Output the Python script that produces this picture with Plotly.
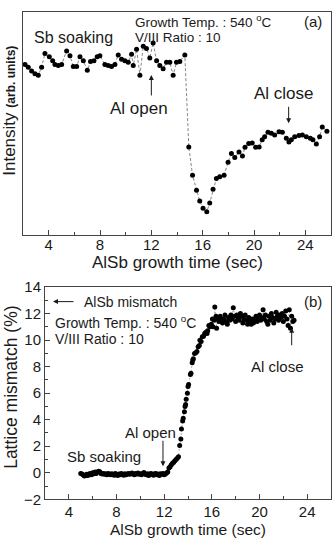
import plotly.graph_objects as go

W, H = 334, 547

# ---------------- Panel (a): RHEED intensity ----------------
a_time = [2.16, 2.41, 2.67, 2.93, 3.19, 3.45, 3.71, 4.05, 4.31, 4.49, 4.75, 5.01,
          5.40, 5.66, 5.92, 6.18, 6.44, 6.70, 7.01, 7.26, 7.53, 7.78, 7.99, 8.38,
          8.64, 8.90, 9.16, 9.42, 9.68, 9.94, 10.20, 10.46, 10.59, 10.85, 11.11,
          11.37, 11.62, 11.88, 12.14, 12.41, 12.66, 12.92, 13.18, 13.44, 13.70,
          13.96, 14.22, 14.61,
          14.92, 15.21, 15.52, 15.77, 16.03, 16.32, 16.55, 16.81, 17.07, 17.33,
          17.67, 17.98, 18.24, 18.50, 18.83, 19.10, 19.30, 19.59, 19.86, 20.13,
          20.40, 20.64, 20.83, 21.09, 21.35, 21.61, 21.95, 22.21, 22.52, 22.72,
          22.91, 23.17, 23.50, 23.77, 24.08, 24.39, 24.59, 24.86, 25.11, 25.32, 25.68]
a_intensity = [76.4, 75.2, 73.5, 72.3, 71.6, 75.2, 81.3, 79.9, 78.1, 76.4, 75.9, 76.4,
               82.5, 80.3, 75.5, 75.5, 79.9, 78.1, 73.8, 77.8, 78.1, 79.9, 80.3, 76.4,
               75.9, 75.5, 76.4, 80.7, 78.8, 78.1, 77.4, 81.0, 75.9, 83.2, 71.6,
               84.6, 83.6, 79.3, 86.1, 78.1, 75.9, 74.5, 77.4, 77.4, 71.6,
               77.4, 77.8, 80.7,
               39.4, 26.7, 20.0, 15.1, 11.9, 10.3, 14.3, 20.4, 25.2, 26.0,
               26.7, 32.5, 36.5, 34.7, 37.1, 35.3, 39.3, 40.9, 41.2, 39.3,
               39.4, 42.6, 44.0, 46.0, 45.5, 44.8, 46.2, 46.0, 43.3, 41.6,
               42.6, 44.0, 44.5, 44.8, 44.0, 43.3, 42.6, 40.7, 44.0, 48.4, 46.5]

# ---------------- Panel (b): lattice mismatch ----------------
b_time = [5.0, 5.1, 5.2, 5.3, 5.4, 5.5, 5.6, 5.7, 5.8, 5.9, 6.0, 6.1, 6.2, 6.3, 6.4,
          6.5, 6.6, 6.7, 6.8, 6.9, 7.0, 7.1, 7.2, 7.3, 7.4, 7.5, 7.6, 7.7, 7.8, 7.9,
          8.0, 8.1, 8.2, 8.3, 8.4, 8.5, 8.6, 8.7, 8.8, 8.9, 9.0, 9.1, 9.2, 9.3, 9.4,
          9.5, 9.6, 9.7, 9.8, 9.9, 10.0, 10.1, 10.2, 10.3, 10.4, 10.5, 10.6, 10.7,
          10.8, 10.9, 11.0, 11.1, 11.2, 11.3, 11.4, 11.5, 11.6, 11.7, 11.8, 11.9,
          12.0, 12.1, 12.2, 12.3,
          12.4, 12.5, 12.6, 12.7, 12.8, 12.9, 13.0, 13.1, 13.2, 13.3, 13.4, 13.45,
          13.55, 13.6, 13.7, 13.75, 13.8, 13.85, 13.95, 14.0, 14.05, 14.2, 14.25,
          14.35, 14.4, 14.45, 14.55, 14.65, 14.75, 14.85, 14.95, 15.0, 15.1, 15.2,
          15.3, 15.4, 15.5, 15.6, 15.65, 15.75, 15.85, 15.95, 16.05, 16.1, 16.2,
          16.25, 16.35, 16.4, 16.5, 16.6,
          16.7, 16.8, 16.9, 17.0, 17.1, 17.2, 17.3, 17.4, 17.5, 17.6, 17.7, 17.8,
          17.9, 18.0, 18.1, 18.2, 18.3, 18.4, 18.5, 18.6, 18.7, 18.8, 18.9, 19.0,
          19.1, 19.2, 19.3, 19.4, 19.5, 19.6, 19.7, 19.8, 19.9, 20.0, 20.1, 20.2,
          20.3, 20.4, 20.5, 20.6, 20.7, 20.8, 20.9, 21.0, 21.1, 21.2, 21.3, 21.4,
          21.5, 21.6, 21.7, 21.8, 21.9, 22.0, 22.1, 22.2, 22.3, 22.4, 22.5, 22.6,
          22.7, 22.8, 22.9]
b_mismatch = [-0.05, -0.1, -0.15, -0.25, -0.2, -0.12, -0.2, -0.1, -0.05, -0.15, 0.0,
              -0.08, 0.05, -0.05, 0.05, 0.12, 0.08, -0.05, -0.1, -0.05, -0.12, -0.08,
              -0.15, -0.05, -0.1, -0.15, -0.08, -0.12, -0.18, -0.05, -0.12, -0.2,
              -0.1, -0.15, -0.05, -0.12, -0.18, -0.08, -0.15, -0.1, -0.05, -0.12,
              -0.08, -0.02, -0.1, -0.15, -0.05, -0.1, -0.02, -0.12, -0.08, -0.15,
              -0.05, 0.02, -0.1, -0.15, -0.08, -0.2, -0.1, -0.05, -0.12, -0.18,
              -0.08, -0.05, -0.15, -0.1, -0.2, -0.08, -0.12, -0.05, -0.15, -0.1,
              -0.02, 0.05,
              0.35, 0.45, 0.6, 0.72, 0.8, 0.9, 1.0, 1.1, 1.2, 2.05, 2.55, 3.3,
              3.9, 4.1, 4.6, 5.0, 5.15, 5.55, 6.0, 6.5, 6.65, 7.4, 7.5,
              8.3, 8.5, 8.6, 9.0, 9.05, 9.15, 9.5, 9.6, 10.0, 9.9, 10.25,
              10.3, 10.5, 10.6, 10.5, 10.7, 11.1, 11.0, 11.2, 11.6, 11.0, 11.5,
              12.5, 11.8, 10.9, 11.6, 11.4,
              11.8, 11.5, 11.3, 11.6, 11.9, 11.4, 11.2, 11.7, 11.5, 11.9, 11.6, 12.45,
              11.8, 11.4, 11.9, 11.7, 11.5, 12.0, 11.8, 11.3, 11.6, 11.9, 11.5, 11.2,
              11.7, 11.4, 11.2, 11.6, 11.3, 11.5, 11.8, 11.4, 11.6, 11.9, 11.5, 11.7,
              12.3, 11.6, 11.9, 11.4, 11.2, 11.8, 11.5, 12.0, 11.7, 11.3, 11.6, 12.1,
              11.8, 11.5, 11.9, 11.7, 12.0, 11.4, 11.8, 12.2, 11.6, 11.1, 12.3, 10.9,
              11.8, 11.4, 11.5]

x_ticks = [4, 8, 12, 16, 20, 24]
y_ticks_b = [-2, 0, 2, 4, 6, 8, 10, 12, 14]

FONT = "Liberation Sans, Arial, sans-serif"
TXT = "#1a1a1a"
AX = "#444444"


def PX(x):
    return x / W


def PY(y):
    return 1 - y / H


fig = go.Figure()

fig.add_trace(go.Scatter(
    x=a_time, y=a_intensity, mode="lines+markers",
    line=dict(color="#666666", width=0.8, dash="3px,2px"),
    marker=dict(color="black", size=5),
    xaxis="x", yaxis="y", showlegend=False))

fig.add_trace(go.Scatter(
    x=b_time, y=b_mismatch, mode="lines+markers",
    line=dict(color="#888888", width=0.7, dash="2px,2px"),
    marker=dict(color="black", size=5),
    xaxis="x2", yaxis="y2", showlegend=False))

axis_common = dict(showline=True, linecolor=AX, linewidth=1, mirror=True,
                   showgrid=False, zeroline=False,
                   tickfont=dict(family=FONT, size=15, color=TXT))

fig.update_layout(
    width=W, height=H,
    margin=dict(l=0, r=0, t=0, b=0),
    paper_bgcolor="white", plot_bgcolor="white",
    font=dict(family=FONT, color=TXT),
    xaxis=dict(domain=[PX(23), PX(331)], range=[2, 26], anchor="y",
               tickvals=x_ticks, ticks="inside", ticklen=5, tickcolor=AX,
               ticklabelstandoff=-4,
               minor=dict(ticks="inside", ticklen=3, dtick=2, tick0=0, tickcolor=AX),
               **axis_common),
    yaxis=dict(domain=[PY(233), PY(3)], range=[0, 100], anchor="x",
               showticklabels=False, ticks="",
               **axis_common),
    xaxis2=dict(domain=[PX(45), PX(331)], range=[2, 26], anchor="y2",
                tickvals=x_ticks, ticks="inside", ticklen=5, tickcolor=AX,
                ticklabelstandoff=-1,
                minor=dict(ticks="inside", ticklen=3, dtick=2, tick0=0, tickcolor=AX),
                **axis_common),
    yaxis2=dict(domain=[PY(506), PY(287)], range=[-2, 14], anchor="x2",
                tickvals=y_ticks_b, ticks="inside", ticklen=5, tickcolor=AX,
                minor=dict(ticks="inside", ticklen=3, dtick=1, tick0=0, tickcolor=AX),
                **axis_common),
)


def text(x, y, s, size, xanchor="center", angle=0):
    fig.add_annotation(x=PX(x), y=PY(y), xref="paper", yref="paper", text=s,
                       showarrow=False, xanchor=xanchor, yanchor="middle",
                       textangle=angle, font=dict(family=FONT, size=size, color=TXT))


def arrow(xr, yr, x, y, ax, ay):
    fig.add_annotation(x=x, y=y, xref=xr, yref=yr, text="", showarrow=True,
                       ax=ax, ay=ay, arrowhead=2, arrowsize=1, arrowwidth=1,
                       arrowcolor=TXT)


# Panel (a) texts
text(73, 29, "Sb soaking", 16)
text(133, 12.5, "Growth Temp. : 540 <sup>o</sup>C", 13.5, "left")
text(133, 29, "V/III Ratio : 10", 13.5, "left")
text(313, 13, "(a)", 15)
text(139, 103, "Al open", 17)
text(284, 87, "Al close", 17)
text(177, 262, "AlSb growth time (sec)", 17)
text(10, 105, "Intensity <b><span style='font-size:12px'>(arb. units)</span></b>", 17,
     angle=-90)
arrow("x", "y", 12.0, 71.7, 0, 22)
arrow("x", "y", 22.7, 50.0, 0, -18)

# Panel (b) texts
text(82, 302, "AlSb mismatch", 14, "left")
fig.add_annotation(x=PX(53), y=PY(302), xref="paper", yref="paper", text="",
                   showarrow=True, ax=22, ay=0, arrowhead=2, arrowsize=1,
                   arrowwidth=1, arrowcolor=TXT)
text(53, 323, "Growth Temp. : 540 <sup>o</sup>C", 14, "left")
text(53, 341, "V/III Ratio : 10", 14, "left")
text(313, 302, "(b)", 15)
text(277, 369, "Al close", 15)
text(150, 437, "Al open", 15)
text(104, 462, "Sb soaking", 15)
text(188, 537, "AlSb growth time (sec)", 15.5)
text(11, 391, "Lattice mismatch (%)", 17.5, angle=-90)
arrow("x2", "y2", 11.9, 0.49, 0, -27)
arrow("x2", "y2", 22.7, 10.93, 0, 19)

fig.write_html("out.html")
